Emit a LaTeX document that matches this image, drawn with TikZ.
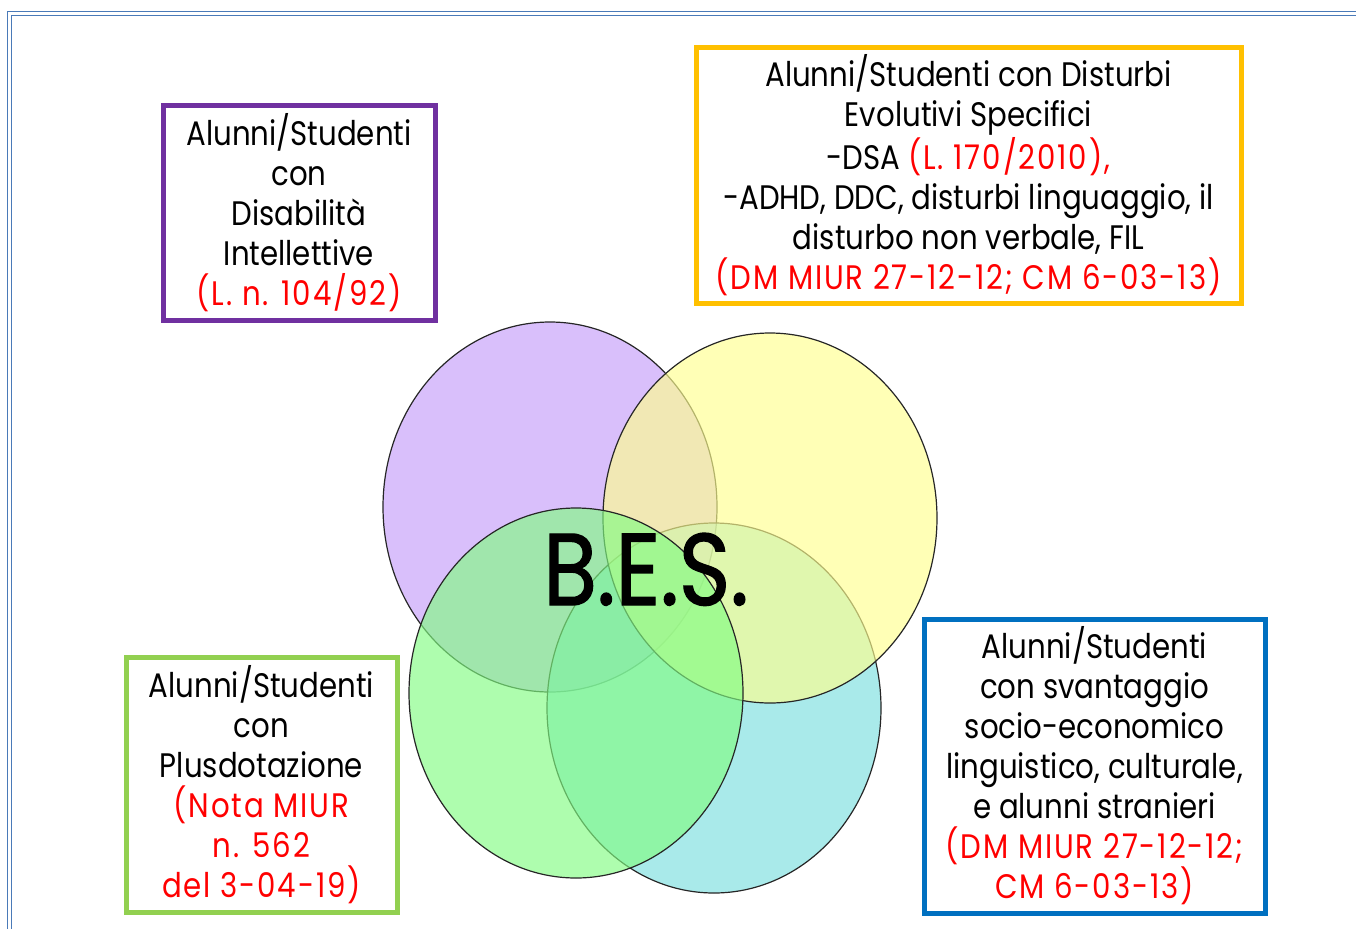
\documentclass[tikz,border=0pt]{standalone}
\usepackage{fontspec}
\newfontfamily\besfont{Poppins}[FakeStretch=0.86]
\newfontfamily\besred{Poppins}[FakeStretch=0.86, LetterSpace=5.5]
\newfontfamily\besbig{Poppins}[FakeStretch=0.86, FakeBold=1.2]
\definecolor{frameblue}{HTML}{4A7AB8}
\definecolor{boxpurple}{HTML}{7030A0}
\definecolor{boxyellow}{HTML}{FFC000}
\definecolor{boxgreen}{HTML}{92D050}
\definecolor{boxblue}{HTML}{0070C0}
\definecolor{setpurple}{RGB}{197,157,249}
\definecolor{setyellow}{RGB}{255,255,143}
\definecolor{setcyan}{RGB}{123,223,223}
\definecolor{setgreen}{RGB}{130,252,130}
\newcommand{\rif}[1]{{\besred\color{red}#1}}

\begin{document}
\begin{tikzpicture}[x=0.5pt,y=-0.5pt,
    catbox/.style={draw, line width=2.5pt, align=center, inner sep=0pt,
      font=\besfont\fontsize{17}{20}\selectfont},
    bubble/.style={draw=black!85, line width=0.6pt, fill opacity=0.65}]
	\useasboundingbox (0,0) rectangle (1356,928);
	\draw[draw=frameblue, line width=0.7pt, double=white, double distance=1.2pt] (9.5,13.5) rectangle (1400,990);

	% the four sets, back to front
	\draw[bubble, fill=setpurple] (550,507) ellipse [x radius=167, y radius=185];
	\draw[bubble, fill=setcyan]   (714,708) ellipse [x radius=167, y radius=185];
	\draw[bubble, fill=setyellow] (770,518) ellipse [x radius=167, y radius=185];
	\draw[bubble, fill=setgreen]  (576,693) ellipse [x radius=167, y radius=185];
	\node (bes) [anchor=base, font=\besbig\fontsize{51}{51}\selectfont] at (646,605) {B.E.S.};

	\node (disabili) [catbox, boxpurple, text=black, minimum width=136pt, minimum height=107.5pt] at (299,212.5)
		{Alunni/Studenti\\con\\Disabilità\\Intellettive\\\rif{(L. n. 104/92)}};
	\node (evolutivi) [catbox, boxyellow, text=black, minimum width=272.5pt, minimum height=128pt] at (968.5,175)
		{Alunni/Studenti con Disturbi\\Evolutivi Specifici\\-DSA \rif{(L. 170/2010),}\\-ADHD, DDC, disturbi linguaggio, il\\disturbo non verbale, FIL\\\rif{(DM MIUR 27-12-12; CM 6-03-13)}};
	\node (plusdot) [catbox, boxgreen, text=black, minimum width=135.5pt, minimum height=127.5pt] at (261.5,784.5)
		{Alunni/Studenti\\con\\Plusdotazione\\\rif{(Nota MIUR}\\\rif{n. 562}\\\rif{del 3-04-19)}};
	\node (svantaggio) [catbox, boxblue, text=black, minimum width=170.5pt, minimum height=147pt] at (1094.5,766)
		{Alunni/Studenti\\con svantaggio\\socio-economico\\linguistico, culturale,\\e alunni stranieri\\\rif{(DM MIUR 27-12-12;}\\\rif{CM 6-03-13)}};
\end{tikzpicture}
\end{document}
